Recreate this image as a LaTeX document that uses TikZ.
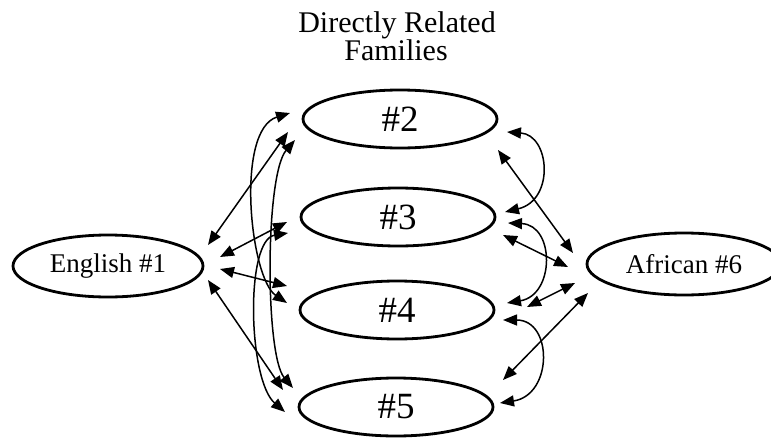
\documentclass[tikz,border=0pt]{standalone}
\usepackage{fontspec}
\setmainfont{Liberation Serif}
\usetikzlibrary{shapes.geometric,arrows.meta}
\begin{document}
\begin{tikzpicture}[x=1pt,y=-1pt,
  fam/.style={ellipse, draw, line width=2.8pt, minimum width=194pt, minimum height=58pt, inner sep=0pt},
  big/.style={font=\fontsize{37}{37}\selectfont},
  mid/.style={font=\fontsize{27}{27}\selectfont},
  ttl/.style={font=\fontsize{30}{30}\selectfont, anchor=base, inner sep=0pt},
  link/.style={line width=1.5pt, {Triangle[length=14pt,width=11pt]}-{Triangle[length=14pt,width=11pt]}}]
\useasboundingbox (0,0) rectangle (771,439);

\node[ttl] (t1) at (397,32) {Directly Related};
\node[ttl] (t2) at (396,60) {Families};

\node[fam, mid, minimum width=190pt, minimum height=62pt] (n1) at (108,266) {English \#1};
\node[fam, big] (n2) at (400,119) {\#2};
\node[fam, big] (n3) at (398,217) {\#3};
\node[fam, big] (n4) at (397,310) {\#4};
\node[fam, big] (n5) at (396,407) {\#5};
\node[fam, mid, minimum height=62pt] (n6) at (684,264) {African \#6};

% straight links from English
\draw[link] ([shift={(100,-21)}]n1.center) -- ([shift={(-112,13)}]n2.center);
\draw[link] ([shift={(112,-9)}]n1.center) -- ([shift={(-111,5)}]n3.center);
\draw[link] ([shift={(112,3)}]n1.center) -- ([shift={(-110,-24)}]n4.center);
\draw[link] ([shift={(100,14)}]n1.center) -- ([shift={(-113,-17)}]n5.center);

% left curves
\draw[link] ([shift={(-110,-6)}]n2.center) .. controls +(-55,17) and +(-37,-25) .. ([shift={(-110,-7)}]n4.center);
\draw[link] ([shift={(-105,21)}]n2.center) .. controls +(-30,35) and +(-28,-33) .. ([shift={(-103,-19)}]n5.center);
\draw[link] ([shift={(-110,16)}]n3.center) .. controls +(-43,7) and +(-37,-32) .. ([shift={(-111,5)}]n5.center);

% straight links to African
\draw[link] ([shift={(98,31)}]n2.center) -- ([shift={(-111,-11)}]n6.center);
\draw[link] ([shift={(105,18)}]n3.center) -- ([shift={(-116,3)}]n6.center);
\draw[link] ([shift={(130,-3)}]n4.center) -- ([shift={(-109,19)}]n6.center);
\draw[link] ([shift={(107,-27)}]n5.center) -- ([shift={(-96,29)}]n6.center);

% right curves
\draw[link] ([shift={(107,13)}]n2.center) .. controls +(43,3) and +(50,-12) .. ([shift={(107,-5)}]n3.center);
\draw[link] ([shift={(110,6)}]n3.center) .. controls +(47,2) and +(48,-8) .. ([shift={(110,-7)}]n4.center);
\draw[link] ([shift={(106,10)}]n4.center) .. controls +(50,0) and +(53,-8) .. ([shift={(104,-4)}]n5.center);
\end{tikzpicture}
\end{document}
